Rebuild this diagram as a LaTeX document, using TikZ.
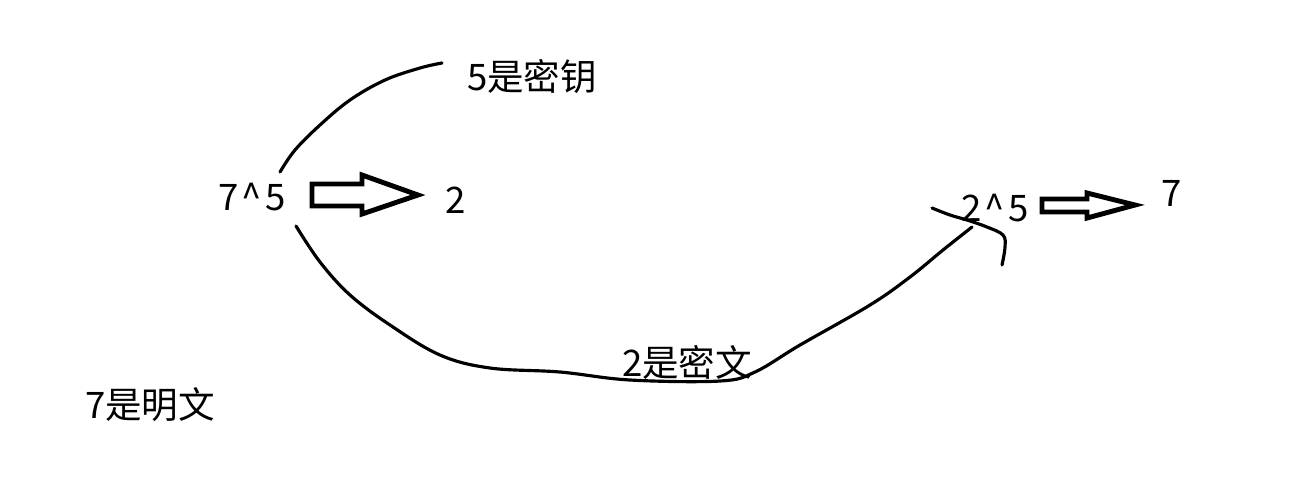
\documentclass[tikz,border=0pt]{standalone}
\usepackage{fontspec}
\setmainfont{Noto Sans CJK SC}
\tikzset{
  txt/.style={inner sep=0pt, font=\fontsize{10.4}{12}\selectfont},
  pen/.style={line width=0.9pt, line cap=round, line join=round},
  fat/.style={line width=1.4pt, line join=miter}
}
\begin{document}
\begin{tikzpicture}
\useasboundingbox (0,0) rectangle (13.03,4.78);
\node (key) [txt] at (5.32,4.01) {5是密钥};
\node (m)   [txt] at (2.52,2.81) {7\kern0.08em\textasciicircum\kern0.08em 5};
\node (c)   [txt] at (4.56,2.78) {2};
\node (c5)  [txt] at (9.95,2.70) {2\kern0.08em\textasciicircum\kern0.08em 5};
\node (m2)  [txt] at (11.72,2.85) {7};
\node (ctext) [txt] at (6.87,1.16) {2是密文};
\node (mtext) [txt] at (1.50,0.73) {7是明文};
% hollow arrows
\draw [fat] (3.12,2.94) -- (3.62,2.94) -- (3.62,3.03) -- (4.18,2.83)
  -- (3.62,2.64) -- (3.62,2.72) -- (3.12,2.72) -- cycle;
\draw [fat] (10.42,2.79) -- (10.87,2.79) -- (10.87,2.85) -- (11.35,2.73)
  -- (10.87,2.60) -- (10.87,2.66) -- (10.42,2.66) -- cycle;
% hand strokes
\draw [pen] plot [smooth, tension=0.6] coordinates {(2.80,3.06) (2.95,3.28) (3.20,3.53)
  (3.50,3.78) (3.85,3.98) (4.20,4.10) (4.42,4.15)};
\draw [pen] plot [smooth, tension=0.6] coordinates {(2.96,2.52) (3.20,2.16) (3.50,1.83)
  (3.90,1.53) (4.40,1.23) (4.90,1.10) (5.60,1.06) (6.30,0.98) (7.20,0.97) (7.55,1.06)
  (8.00,1.33) (8.70,1.73) (9.10,2.01) (9.43,2.28) (9.72,2.51)};
\draw [pen] plot [smooth, tension=0.6] coordinates {(9.32,2.70) (9.50,2.63) (9.67,2.58)
  (9.87,2.51) (10.03,2.43) (10.05,2.31) (10.02,2.13)};
\end{tikzpicture}
\end{document}
